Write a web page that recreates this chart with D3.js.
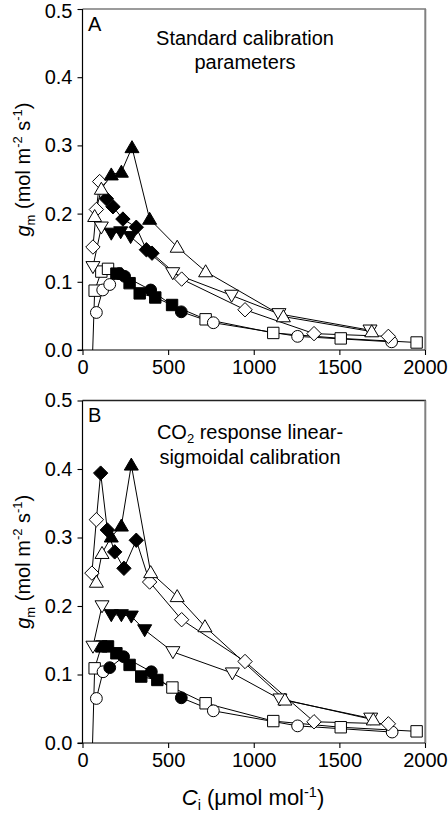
<!DOCTYPE html>
<html><head><meta charset="utf-8">
<script src="https://cdn.jsdelivr.net/npm/d3@7/dist/d3.min.js"></script>
<style>body{margin:0;background:#fff}svg{display:block}text{font-family:"Liberation Sans",Arial,sans-serif;fill:#000}</style>
</head><body>
<svg id="c" width="448" height="817"></svg>
<script>
// ---- data (Ci in µmol mol-1, gm in mol m-2 s-1; fill 1 = filled symbol) ----
const xTicks = [0, 500, 1000, 1500, 2000];
const yTicks = [0, 0.1, 0.2, 0.3, 0.4, 0.5];

const A_tri_ci = [71, 110, 168, 227, 289, 392, 553, 719, 1173, 1689];
const A_tri_gm = [0.196, 0.236, 0.257, 0.261, 0.297, 0.192, 0.151, 0.115, 0.049, 0.027];
const A_tri_fill = [0,0,1,1,1,1,0,0,0,0];
const A_dia_ci = [61, 81, 100, 139, 178, 236, 314, 373, 406, 579, 949, 1352, 1786];
const A_dia_gm = [0.151, 0.206, 0.247, 0.222, 0.210, 0.192, 0.180, 0.147, 0.142, 0.104, 0.059, 0.024, 0.020];
const A_dia_fill = [0,0,0,1,1,1,1,1,1,0,0,0,0];
const A_inv_ci = [61, 110, 168, 223, 281, 527, 871, 1147, 1679];
const A_inv_gm = [0.122, 0.180, 0.171, 0.173, 0.166, 0.113, 0.080, 0.053, 0.029];
const A_inv_fill = [0,0,1,1,1,0,0,0,0];
const A_sq_ci = [53, 71, 110, 149, 198, 275, 334, 425, 523, 719, 1114, 1508, 1951];
const A_sq_gm = [-0.05, 0.087, 0.115, 0.119, 0.112, 0.098, 0.083, 0.077, 0.066, 0.045, 0.025, 0.017, 0.011];
const A_sq_fill = [0,0,0,0,1,1,1,1,1,0,0,0,0];
const A_cir_ci = [81, 118, 159, 215, 246, 398, 577, 764, 1256, 1805];
const A_cir_gm = [0.055, 0.088, 0.096, 0.112, 0.108, 0.088, 0.056, 0.040, 0.020, 0.012];
const A_cir_fill = [0,0,0,1,1,1,1,0,0,0];

const B_tri_ci = [81, 114, 168, 227, 285, 398, 553, 715, 1182, 1698];
const B_tri_gm = [0.235, 0.277, 0.301, 0.317, 0.406, 0.249, 0.214, 0.170, 0.063, 0.034];
const B_tri_fill = [0,0,1,1,1,0,0,0,0,0];
const B_dia_ci = [55, 81, 106, 145, 188, 242, 314, 392, 579, 949, 1352, 1786];
const B_dia_gm = [0.248, 0.326, 0.394, 0.311, 0.279, 0.255, 0.296, 0.235, 0.180, 0.119, 0.031, 0.028];
const B_dia_fill = [0,0,1,1,1,1,1,0,0,0,0,0];
const B_inv_ci = [61, 114, 168, 227, 285, 363, 528, 875, 1153, 1683];
const B_inv_gm = [0.141, 0.200, 0.187, 0.187, 0.185, 0.165, 0.133, 0.102, 0.064, 0.036];
const B_inv_fill = [0,0,1,1,1,1,0,0,0,0];
const B_sq_ci = [53, 71, 110, 149, 198, 275, 343, 437, 525, 719, 1114, 1508, 1951];
const B_sq_gm = [-0.05, 0.109, 0.141, 0.141, 0.131, 0.114, 0.097, 0.092, 0.081, 0.058, 0.032, 0.023, 0.017];
const B_sq_fill = [0,0,1,1,1,1,1,1,0,0,0,0,0];
const B_cir_ci = [81, 120, 159, 240, 402, 577, 764, 1256, 1808];
const B_cir_gm = [0.065, 0.104, 0.110, 0.126, 0.104, 0.066, 0.047, 0.025, 0.016];
const B_cir_fill = [0,0,1,1,1,1,0,0,0];

function mk(shape, ci, gm, fill){ return {shape, pts: ci.map((c,i)=>({ci:c, gm:gm[i], f:fill[i]}))}; }
const panels = [
  {id:"A", top:9, bottom:350, topColor:"#7a7a7a",
   series:[mk("sq",A_sq_ci,A_sq_gm,A_sq_fill), mk("cir",A_cir_ci,A_cir_gm,A_cir_fill),
           mk("inv",A_inv_ci,A_inv_gm,A_inv_fill), mk("dia",A_dia_ci,A_dia_gm,A_dia_fill),
           mk("tri",A_tri_ci,A_tri_gm,A_tri_fill)]},
  {id:"B", top:400.5, bottom:743, topColor:"#222",
   series:[mk("sq",B_sq_ci,B_sq_gm,B_sq_fill), mk("cir",B_cir_ci,B_cir_gm,B_cir_fill),
           mk("inv",B_inv_ci,B_inv_gm,B_inv_fill), mk("dia",B_dia_ci,B_dia_gm,B_dia_fill),
           mk("tri",B_tri_ci,B_tri_gm,B_tri_fill)]}
];

const svg = d3.select("#c");
const L = 82.5, R = 425;
const x = d3.scaleLinear().domain([0,2000]).range([L,R]);
const fmt = d3.format(".1f");
const FS = 20;

function shapePath(s){
  switch(s){
    case "sq": return "M-5.7,-5.7H5.7V5.7H-5.7Z";
    case "cir": return d3.symbol(d3.symbolCircle, Math.PI*5.9*5.9)();
    case "tri": return "M0,-6.8L7,5.2L-7,5.2Z";
    case "inv": return "M0,6.8L7,-5.2L-7,-5.2Z";
    case "dia": return "M0,-7.2L7.2,0L0,7.2L-7.2,0Z";
  }
}

panels.forEach((p)=>{
  const y = d3.scaleLinear().domain([0,0.5]).range([p.bottom,p.top]);
  const g = svg.append("g");
  g.append("line").attr("x1",L).attr("x2",R+1).attr("y1",p.top).attr("y2",p.top)
    .attr("stroke",p.topColor).attr("stroke-width",1.6);
  g.append("line").attr("x1",R+0.3).attr("x2",R+0.3).attr("y1",p.top).attr("y2",p.bottom)
    .attr("stroke","#808080").attr("stroke-width",2);
  const ya = g.append("g").attr("transform",`translate(${L},0)`)
    .call(d3.axisLeft(y).tickValues(yTicks).tickFormat(fmt).tickSize(5).tickPadding(5));
  const xa = g.append("g").attr("transform",`translate(0,${p.bottom})`)
    .call(d3.axisBottom(x).tickValues(xTicks).tickFormat(d3.format("d")).tickSize(5).tickPadding(5));
  [ya,xa].forEach(a=>{
    a.select(".domain").attr("stroke","#000").attr("stroke-width",1.2);
    a.selectAll(".tick line").attr("stroke","#000").attr("stroke-width",1.1);
    a.selectAll("text").attr("font-size",FS).attr("fill","#000")
      .style("font-family","'Liberation Sans',Arial,sans-serif");
  });
  ya.select(".domain").attr("d",`M-5,${p.bottom}H0V${p.top}`);
  xa.select(".domain").attr("d",`M${L},0H${R}`);
  // keep the top tick label inside the page
  ya.selectAll(".tick text").filter(d=>d===0.5 && p.id==="A").attr("dy","0.4em");

  const cid = "clip"+p.id;
  svg.append("clipPath").attr("id",cid).append("rect")
    .attr("x",L).attr("y",p.top).attr("width",R-L).attr("height",p.bottom-p.top);
  const dg = g.append("g").attr("clip-path",`url(#${cid})`);
  const line = d3.line().x(d=>x(d.ci)).y(d=>y(d.gm));
  p.series.forEach(s=>{
    dg.append("path").attr("d",line(s.pts)).attr("fill","none").attr("stroke","#000").attr("stroke-width",1);
  });
  p.series.forEach(s=>{
    dg.selectAll(null).data(s.pts.filter(d=>d.gm>=0)).enter().append("path")
      .attr("d",shapePath(s.shape))
      .attr("transform",d=>`translate(${x(d.ci)},${y(d.gm)})`)
      .attr("fill",d=>d.f?"#000":"#fff").attr("stroke","#000").attr("stroke-width",1);
  });

  g.append("text").attr("x",88).attr("y",p.top+21.5).attr("font-size",FS).text(p.id);
  if(p.id==="A"){
    g.append("text").attr("x",245).attr("y",p.top+36).attr("text-anchor","middle").attr("font-size",FS).text("Standard calibration");
    g.append("text").attr("x",245).attr("y",p.top+60).attr("text-anchor","middle").attr("font-size",FS).text("parameters");
  } else {
    const t1 = g.append("text").attr("x",250).attr("y",p.top+38).attr("text-anchor","middle").attr("font-size",FS);
    t1.append("tspan").text("CO");
    t1.append("tspan").attr("font-size",13).attr("dy",4).text("2");
    t1.append("tspan").attr("dy",-4).text(" response linear-");
    g.append("text").attr("x",250).attr("y",p.top+63.5).attr("text-anchor","middle").attr("font-size",FS).text("sigmoidal calibration");
  }
  const cy = (p.top+p.bottom)/2 - 10;
  const yl = g.append("text").attr("transform",`translate(30,${cy}) rotate(-90)`)
    .attr("text-anchor","middle").attr("font-size",FS);
  yl.append("tspan").attr("font-style","italic").text("g");
  yl.append("tspan").attr("font-size",13).attr("dy",5).text("m");
  yl.append("tspan").attr("dy",-5).text(" (mol m");
  yl.append("tspan").attr("font-size",13).attr("dy",-8).text("-2");
  yl.append("tspan").attr("dy",8).text(" s");
  yl.append("tspan").attr("font-size",13).attr("dy",-8).text("-1");
  yl.append("tspan").attr("dy",8).text(")");
});

const xt = svg.append("text").attr("x",253).attr("y",805).attr("text-anchor","middle").attr("font-size",22);
xt.append("tspan").attr("font-style","italic").text("C");
xt.append("tspan").attr("font-size",14.5).attr("dy",5).text("i");
xt.append("tspan").attr("dy",-5).text(" (\u03bcmol mol");
xt.append("tspan").attr("font-size",14.5).attr("dy",-8).text("-1");
xt.append("tspan").attr("dy",8).text(")");
</script>
</body></html>
